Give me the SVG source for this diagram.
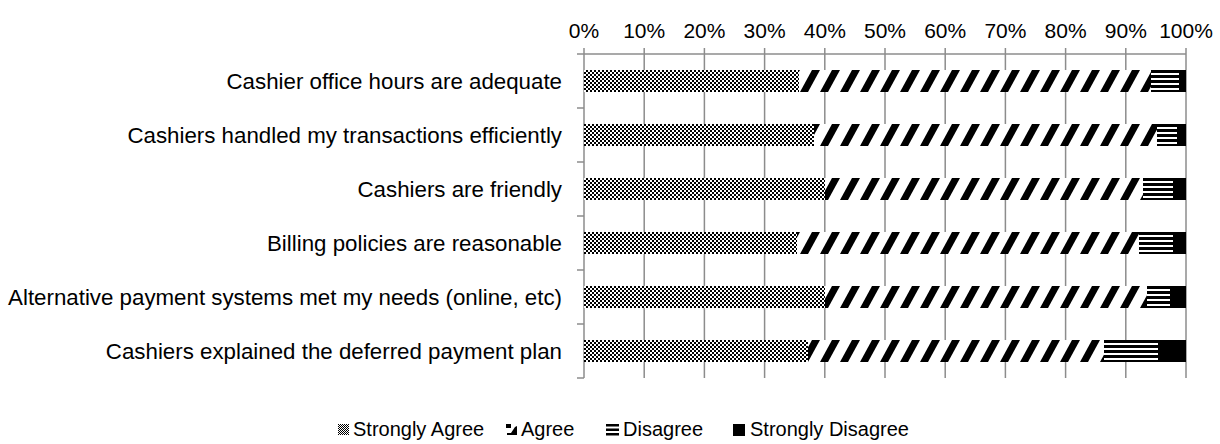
<svg xmlns="http://www.w3.org/2000/svg" width="1220" height="444" viewBox="0 0 1220 444">
<style>
text{font-family:"Liberation Sans",Arial,sans-serif;font-size:21px;fill:#000}
.cat{text-anchor:end;font-size:22.3px}
.ax{text-anchor:middle}
.leg{font-size:20px}
.grid{stroke:#8c8c8c;stroke-width:1.5;fill:none}
.sa{fill:url(#pSA)}
.ag{fill:url(#pAG)}
.di{fill:url(#pDI)}
.sd{fill:#000}
</style>
<defs>
<pattern id="pSA" patternUnits="userSpaceOnUse" width="4" height="4">
<rect width="4" height="4" fill="#fff"/>
<rect x="0" y="0" width="2" height="2" fill="#000"/>
<rect x="2" y="2" width="2" height="2" fill="#000"/>
</pattern>
<pattern id="pAG" patternUnits="userSpaceOnUse" width="20" height="54">
<rect width="20" height="54" fill="#fff"/>
<polygon points="0,38 8,38 20,16 12,16" fill="#000"/>
<polygon points="-20,38 -12,38 0,16 -8,16" fill="#000"/>
</pattern>
<pattern id="pDI" patternUnits="userSpaceOnUse" width="10" height="54">
<rect width="10" height="54" fill="#fff"/>
<rect y="16" width="10" height="3" fill="#000"/>
<rect y="21" width="10" height="3" fill="#000"/>
<rect y="26" width="10" height="3" fill="#000"/>
<rect y="31" width="10" height="3" fill="#000"/>
<rect y="36" width="10" height="2" fill="#000"/>
</pattern>
<pattern id="pSAl" patternUnits="userSpaceOnUse" width="2" height="2">
<rect width="2" height="2" fill="#fff"/>
<rect width="1" height="1" fill="#000"/>
<rect x="1" y="1" width="1" height="1" fill="#000"/>
</pattern>
</defs>

<g id="axes">
<g class="grid">
<line x1="584" y1="54" x2="584" y2="378"/>
<line x1="644.2" y1="54" x2="644.2" y2="378"/>
<line x1="704.4" y1="54" x2="704.4" y2="378"/>
<line x1="764.6" y1="54" x2="764.6" y2="378"/>
<line x1="824.8" y1="54" x2="824.8" y2="378"/>
<line x1="885" y1="54" x2="885" y2="378"/>
<line x1="945.2" y1="54" x2="945.2" y2="378"/>
<line x1="1005.4" y1="54" x2="1005.4" y2="378"/>
<line x1="1065.6" y1="54" x2="1065.6" y2="378"/>
<line x1="1125.8" y1="54" x2="1125.8" y2="378"/>
<line x1="1186" y1="54" x2="1186" y2="378"/>
<line x1="584" y1="54" x2="1186" y2="54"/>
<line x1="584" y1="48" x2="584" y2="54"/>
<line x1="644.2" y1="48" x2="644.2" y2="54"/>
<line x1="704.4" y1="48" x2="704.4" y2="54"/>
<line x1="764.6" y1="48" x2="764.6" y2="54"/>
<line x1="824.8" y1="48" x2="824.8" y2="54"/>
<line x1="885" y1="48" x2="885" y2="54"/>
<line x1="945.2" y1="48" x2="945.2" y2="54"/>
<line x1="1005.4" y1="48" x2="1005.4" y2="54"/>
<line x1="1065.6" y1="48" x2="1065.6" y2="54"/>
<line x1="1125.8" y1="48" x2="1125.8" y2="54"/>
<line x1="1186" y1="48" x2="1186" y2="54"/>
<line x1="577" y1="54" x2="584" y2="54"/>
<line x1="577" y1="108" x2="584" y2="108"/>
<line x1="577" y1="162" x2="584" y2="162"/>
<line x1="577" y1="216" x2="584" y2="216"/>
<line x1="577" y1="270" x2="584" y2="270"/>
<line x1="577" y1="324" x2="584" y2="324"/>
<line x1="577" y1="378" x2="584" y2="378"/>
</g>
<text class="ax" x="584" y="38">0%</text>
<text class="ax" x="644.2" y="38">10%</text>
<text class="ax" x="704.4" y="38">20%</text>
<text class="ax" x="764.6" y="38">30%</text>
<text class="ax" x="824.8" y="38">40%</text>
<text class="ax" x="885" y="38">50%</text>
<text class="ax" x="945.2" y="38">60%</text>
<text class="ax" x="1005.4" y="38">70%</text>
<text class="ax" x="1065.6" y="38">80%</text>
<text class="ax" x="1125.8" y="38">90%</text>
<text class="ax" x="1186" y="38">100%</text>
</g>

<g id="row1">
<text class="cat" x="562" y="89">Cashier office hours are adequate</text>
<rect class="sa" x="584" y="70" width="215" height="22"/>
<rect class="ag" x="799" y="70" width="352" height="22"/>
<rect class="di" x="1151" y="70" width="28" height="22"/>
<rect class="sd" x="1179" y="70" width="7" height="22"/>
</g>
<g id="row2">
<text class="cat" x="562" y="143">Cashiers handled my transactions efficiently</text>
<rect class="sa" x="584" y="124" width="230" height="22"/>
<rect class="ag" x="814" y="124" width="343" height="22"/>
<rect class="di" x="1157" y="124" width="20" height="22"/>
<rect class="sd" x="1177" y="124" width="9" height="22"/>
</g>
<g id="row3">
<text class="cat" x="562" y="197">Cashiers are friendly</text>
<rect class="sa" x="584" y="178" width="241" height="22"/>
<rect class="ag" x="825" y="178" width="318" height="22"/>
<rect class="di" x="1143" y="178" width="30" height="22"/>
<rect class="sd" x="1173" y="178" width="13" height="22"/>
</g>
<g id="row4">
<text class="cat" x="562" y="251">Billing policies are reasonable</text>
<rect class="sa" x="584" y="232" width="213" height="22"/>
<rect class="ag" x="797" y="232" width="342" height="22"/>
<rect class="di" x="1139" y="232" width="34" height="22"/>
<rect class="sd" x="1173" y="232" width="13" height="22"/>
</g>
<g id="row5">
<text class="cat" x="562" y="305">Alternative payment systems met my needs (online, etc)</text>
<rect class="sa" x="584" y="286" width="241" height="22"/>
<rect class="ag" x="825" y="286" width="322" height="22"/>
<rect class="di" x="1147" y="286" width="23" height="22"/>
<rect class="sd" x="1170" y="286" width="16" height="22"/>
</g>
<g id="row6">
<text class="cat" x="562" y="359">Cashiers explained the deferred payment plan</text>
<rect class="sa" x="584" y="340" width="224" height="22"/>
<rect class="ag" x="808" y="340" width="296" height="22"/>
<rect class="di" x="1104" y="340" width="54" height="22"/>
<rect class="sd" x="1158" y="340" width="28" height="22"/>
</g>

<g id="legend">
<rect x="338" y="424" width="11" height="11" fill="url(#pSAl)"/>
<text class="leg" x="353" y="436">Strongly Agree</text>
<g transform="translate(506,424)">
<rect x="0" y="0" width="5" height="4" fill="#000"/>
<polygon points="11,2 11,11 1,11 1,9 5,9 9,3" fill="#000"/>
</g>
<text class="leg" x="521" y="436">Agree</text>
<g transform="translate(606,424)" fill="#000">
<rect x="0" y="0" width="13" height="2.5"/>
<rect x="0" y="4.5" width="13" height="2.5"/>
<rect x="0" y="9" width="13" height="2.5"/>
</g>
<text class="leg" x="623" y="436">Disagree</text>
<rect x="733" y="424" width="12" height="12" fill="#000"/>
<text class="leg" x="750" y="436">Strongly Disagree</text>
</g>
</svg>
